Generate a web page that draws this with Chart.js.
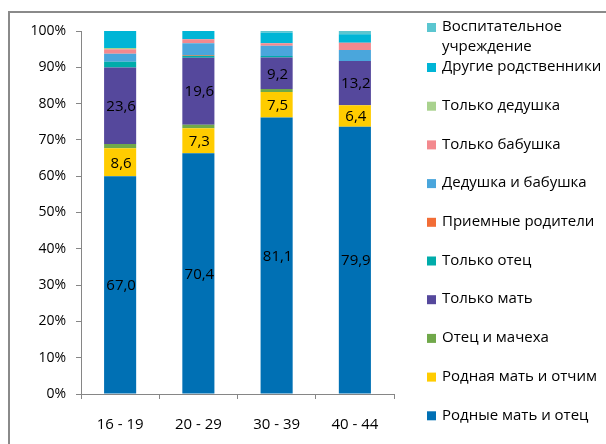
<!DOCTYPE html>
<html>
<head>
<meta charset="utf-8">
<script src="https://cdn.jsdelivr.net/npm/chart.js@4.4.1/dist/chart.umd.min.js"></script>
<style>
html,body{margin:0;padding:0;background:#fff;}
#wrap{position:relative;width:606px;height:444px;}
</style>
</head>
<body>
<div id="wrap"><canvas id="c" width="606" height="444"></canvas></div>
<script>
// Categories (age groups)
const categories = ['16 - 19', '20 - 29', '30 - 39', '40 - 44'];
// Series values (raw values; chart is 100% stacked)
const rodnyeMatOtec   = [67.0, 70.4, 81.1, 79.9];
const rodnayaMatOtchim = [8.6, 7.3, 7.5, 6.4];
const otecMacheha     = [1.3, 1.0, 0.9, 0.0];
const tolkoMat        = [23.6, 19.6, 9.2, 13.2];
const tolkoOtec       = [1.7, 0.6, 0.5, 0.0];
const priemnye        = [0.0, 0.2, 0.0, 0.0];
const dedushkaBabushka = [2.5, 3.4, 3.0, 3.3];
const tolkoBabushka   = [1.4, 1.2, 0.7, 2.2];
const tolkoDedushka   = [0.4, 0.0, 0.0, 0.0];
const drugie          = [5.2, 2.4, 3.1, 2.5];
const vospitatelnoe   = [0.0, 0.0, 0.5, 1.0];
// Tick labels
const yTicks = [0, 10, 20, 30, 40, 50, 60, 70, 80, 90, 100];

const seriesNames = ['Родные мать и отец', 'Родная мать и отчим', 'Отец и мачеха', 'Только мать', 'Только отец',
  'Приемные родители', 'Дедушка и бабушка', 'Только бабушка', 'Только дедушка', 'Другие родственники',
  ['Воспитательное', 'учреждение']];
const seriesValues = [rodnyeMatOtec, rodnayaMatOtchim, otecMacheha, tolkoMat, tolkoOtec, priemnye,
  dedushkaBabushka, tolkoBabushka, tolkoDedushka, drugie, vospitatelnoe];
const seriesColors = ['#0070B4', '#FFCC00', '#70A84A', '#55489C', '#00ACAA', '#F26D36', '#4AA6DC',
  '#F3898E', '#A9D28E', '#00B5D6', '#5BC6D0'];
const labeledSeries = [0, 1, 3];

const totals = categories.map((_, i) => seriesValues.reduce((s, arr) => s + arr[i], 0));

const FONT = '"Open Sans", "Noto Sans", sans-serif';
const AXIS = '#868686';

const datasets = seriesValues.map((arr, k) => ({
  label: Array.isArray(seriesNames[k]) ? seriesNames[k].join(' ') : seriesNames[k],
  data: arr.map((v, i) => v / totals[i] * 100),
  raw: arr,
  backgroundColor: seriesColors[k],
  borderWidth: 0,
  categoryPercentage: 1.0,
  barPercentage: 0.41
}));

const customPlugin = {
  id: 'custom',
  beforeDraw(chart) {
    const ctx = chart.ctx;
    ctx.save();
    ctx.fillStyle = '#fff';
    ctx.fillRect(0, 0, chart.width, chart.height);
    ctx.strokeStyle = '#8a8a8a';
    ctx.lineWidth = 2;
    ctx.beginPath();
    ctx.moveTo(9, chart.height + 2);
    ctx.lineTo(9, 12);
    ctx.lineTo(chart.width + 2, 12);
    ctx.stroke();
    ctx.restore();
  },
  afterDatasetsDraw(chart) {
    const ctx = chart.ctx;
    ctx.save();
    ctx.font = '15px ' + FONT;
    ctx.fillStyle = '#000';
    ctx.textAlign = 'center';
    ctx.textBaseline = 'middle';
    labeledSeries.forEach(k => {
      const meta = chart.getDatasetMeta(k);
      meta.data.forEach((bar, i) => {
        const raw = chart.data.datasets[k].raw[i];
        const y = (bar.y + bar.base) / 2;
        ctx.fillText(raw.toFixed(1).replace('.', ','), bar.x + 1, y + 1);
      });
    });
    ctx.restore();
  },
  afterDraw(chart) {
    const ctx = chart.ctx;
    ctx.save();
    ctx.font = '15px ' + FONT;
    ctx.textBaseline = 'middle';
    ctx.textAlign = 'left';
    const boxX = 427, textX = 442, step = 38.7;
    const n = seriesNames.length;
    let y = 27;
    for (let k = n - 1; k >= 0; k--) {
      const name = seriesNames[k];
      ctx.fillStyle = seriesColors[k];
      ctx.fillRect(boxX, y - 4, 9, 9);
      ctx.fillStyle = '#000';
      if (Array.isArray(name)) {
        name.forEach((line, j) => ctx.fillText(line, textX, y + j * 20));
        y = y + 40;
      } else {
        ctx.fillText(name, textX, y);
        y += step;
      }
    }
    ctx.restore();
  }
};

new Chart(document.getElementById('c'), {
  type: 'bar',
  data: { labels: categories, datasets },
  plugins: [customPlugin],
  options: {
    responsive: false,
    animation: false,
    events: [],
    layout: { padding: { left: 0, top: 31, right: 212, bottom: 0 } },
    plugins: { legend: { display: false }, tooltip: { enabled: false } },
    scales: {
      x: {
        stacked: true,
        offset: true,
        grid: { offset: true, drawOnChartArea: false, drawTicks: true, tickLength: 5, color: AXIS, lineWidth: 1 },
        border: { color: AXIS, width: 1 },
        ticks: { font: { family: FONT, size: 15 }, color: '#000', padding: 17, maxRotation: 0 },
        afterFit(s) { s.height = 50; }
      },
      y: {
        stacked: true,
        min: 0,
        max: 100,
        afterBuildTicks(s) { s.ticks = yTicks.map(v => ({ value: v })); },
        ticks: { font: { family: FONT, size: 14 }, color: '#000', padding: 10, callback: v => v + '%' },
        grid: { drawOnChartArea: false, drawTicks: true, tickLength: 5, color: AXIS, lineWidth: 1 },
        border: { color: AXIS, width: 1 },
        afterFit(s) { s.width = 81; }
      }
    }
  }
});
</script>
</body>
</html>
